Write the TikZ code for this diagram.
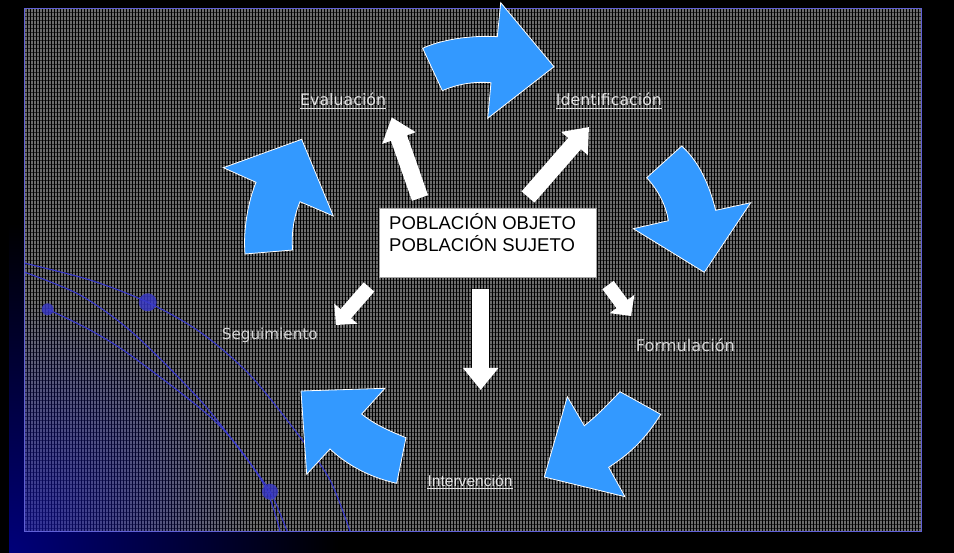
\documentclass[tikz,border=0pt]{standalone}
\usepackage{fontspec}
\setmainfont{Liberation Sans}
\newfontfamily\dvfont{DejaVu Sans}
\usetikzlibrary{arrows.meta,fadings}
\definecolor{navyc}{HTML}{00007A}
\definecolor{tintblue}{HTML}{1010B0}
\definecolor{arrowblue}{HTML}{3399FF}
\definecolor{gridbase}{HTML}{6C6C6C}
\definecolor{lineblue}{HTML}{3838CC}
\definecolor{labelgray}{HTML}{E4E4E4}
\definecolor{labelgray2}{HTML}{D4D4D4}
\tikzfading[name=cornerfade, inner color=transparent!35, outer color=transparent!100]
\begin{document}
\begin{tikzpicture}[x=1pt,y=-1pt,
  barrow/.style={fill=arrowblue, draw=white, line width=0.8pt, line join=miter},
  warrow/.style={draw=white, line width=17pt, -{Triangle[length=22pt,width=34pt]}},
  wsmall/.style={draw=white, line width=14pt, -{Triangle[length=15pt,width=30pt]}},
  lab/.style={inner sep=0pt, anchor=base west, text=labelgray, font=\dvfont\fontsize{15.8}{18}\selectfont},
  ul/.style={draw=labelgray, line width=0.9pt},
  boxtext/.style={inner sep=0pt, anchor=base west, text=black, font=\fontsize{18.5}{22}\selectfont}]
\useasboundingbox (0,0) rectangle (954,553);
% outer frame
\fill[black] (0,0) rectangle (954,553);
\begin{scope}
  \clip (9,0) rectangle (954,553);
  \shade[inner color=navyc, outer color=black] (9,553) circle (330);
\end{scope}
% panel
\begin{scope}
  \clip (24,8) rectangle (921,531);
  \fill[gridbase] (24,8) rectangle (921,531);
  \foreach \x in {24,27,...,921} \draw[black, line width=1pt] (\x,8) -- (\x,531);
  \foreach \y in {8,12,...,531} \draw[black, line width=0.8pt, opacity=0.6] (24,\y) -- (921,\y);
  \fill[tintblue, path fading=cornerfade] (24,531) circle (230);
  % decorative curves
  \draw[lineblue, line width=1.1pt] plot[smooth] coordinates {(24,263) (90,280) (147.7,302.3) (200,332) (250,375) (300,437) (330,480) (350,531)};
  \draw[lineblue, line width=1.1pt] plot[smooth] coordinates {(24,272) (80,295) (133,333) (200,400) (240,450) (270,491.7) (287,531)};
  \draw[lineblue, line width=1.1pt] plot[smooth] coordinates {(47.7,309.3) (90,330) (133,357) (217,423) (263,483) (280,531)};
  \fill[lineblue, opacity=0.8] (147.7,302.3) circle (9);
  \fill[lineblue, opacity=0.8] (270,491.7) circle (8);
  \fill[lineblue, opacity=0.8] (47.7,309.3) circle (6);
\end{scope}
\draw[lineblue!80, line width=0.8pt] (24,8) rectangle (921,531);
% blue cycle arrows
\filldraw[barrow] (422.7,48.3) -- (442.3,90.7) .. controls (460,83) and (477,81.5) .. (491,82.7) -- (487.7,118.3) -- (554,66.7) -- (500.7,2.7) -- (497.3,36.7) .. controls (470,35) and (440,40) .. (422.7,48.3) -- cycle;
\filldraw[barrow] (681.7,146) -- (646.7,177.7) .. controls (658,190) and (666,205) .. (668.3,220.7) -- (633.3,228.7) -- (704.3,272.3) -- (750.7,202.7) -- (715.7,210.3) .. controls (708,180) and (697,160) .. (681.7,146) -- cycle;
\filldraw[barrow] (620,391.7) -- (660.7,414.3) .. controls (645,440) and (628,455) .. (608.7,467.3) -- (625,496.7) -- (544.3,477) -- (567.3,396.7) -- (584.3,425.7) .. controls (598,415) and (610,402) .. (620,391.7) -- cycle;
\filldraw[barrow] (301,391) -- (385,388.3) -- (361.7,414) .. controls (375,425) and (392,432) .. (406,437.7) -- (396.7,483.3) .. controls (372,478) and (348,466) .. (330,449) -- (306.7,474.3) -- cycle;
\filldraw[barrow] (223.3,167.7) -- (301.7,139.3) -- (333.3,216) -- (300,201.7) .. controls (294,216) and (291,234) .. (292.7,250) -- (245,254) .. controls (243,230) and (248,202) .. (256,182.3) -- cycle;
% central box
\node[fill=white, draw=gray!70, line width=0.6pt, minimum width=217pt, minimum height=69pt, inner sep=0pt, anchor=north west] (box) at (379,207.7) {};
\node[boxtext] (t1) at (389,230) {POBLACIÓN OBJETO};
\node[boxtext] (t2) at (389,252) {POBLACIÓN SUJETO};
% labels
\node[lab] (ev) at (300,106) {Evaluación};
\draw[ul] ([yshift=-2.7pt]ev.base west) -- ([yshift=-2.7pt]ev.base east);
\node[lab] (id) at (555.7,106) {Identificación};
\draw[ul] ([yshift=-2.7pt]id.base west) -- ([yshift=-2.7pt]id.base east);
\node[lab, text=labelgray2, font=\dvfont\fontsize{15.2}{18}\selectfont] (se) at (221.7,340) {Seguimiento};
\node[lab, text=labelgray2, font=\dvfont\fontsize{16.2}{18}\selectfont] (fo) at (635.7,351.7) {Formulación};
\node[lab, font=\fontsize{15.6}{18}\selectfont] (iv) at (427.3,486.3) {Intervención};
\draw[ul] ([yshift=-2.2pt]iv.base west) -- ([yshift=-2.2pt]iv.base east);
% white arrows from the box
\coordinate (evS) at (420,198); \coordinate (evE) at (391.7,117.3);
\coordinate (idS) at (528,197); \coordinate (idE) at (589,127);
\coordinate (inS) at (480.7,289.3); \coordinate (inE) at (480.7,390);
\coordinate (seS) at (369,287); \coordinate (seE) at (336,325);
\coordinate (foS) at (608,285); \coordinate (foE) at (631,316);
\draw[warrow] (evS) -- (evE);
\draw[warrow] (idS) -- (idE);
\draw[warrow] (inS) -- (inE);
\draw[wsmall] (seS) -- (seE);
\draw[wsmall] (foS) -- (foE);
\end{tikzpicture}
\end{document}
